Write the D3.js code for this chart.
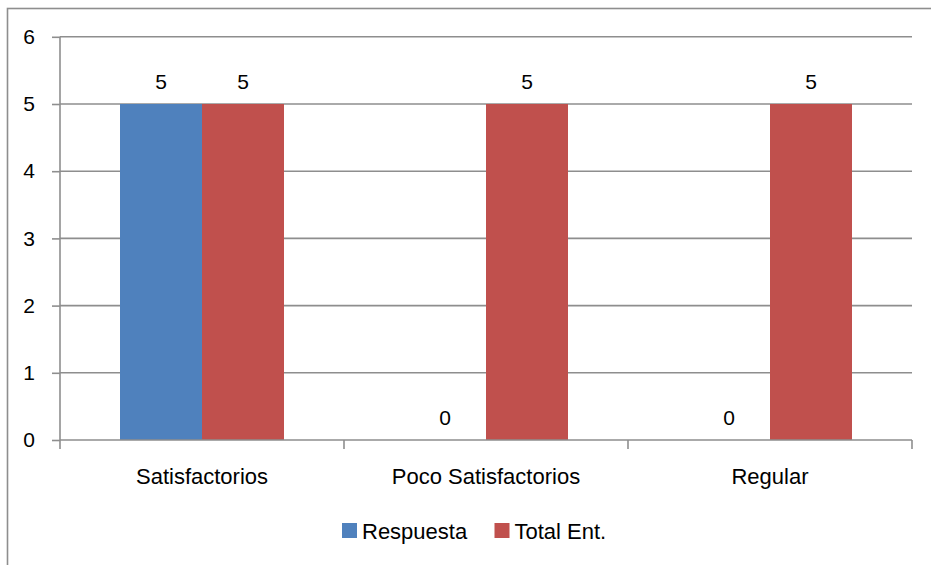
<!DOCTYPE html>
<html><head><meta charset="utf-8">
<script src="https://cdn.jsdelivr.net/npm/d3@7"></script>
<style>body{margin:0;background:#fff}svg{display:block}</style>
</head><body>
<svg id="c" width="931" height="565"></svg>
<script>
const categories = ["Satisfactorios", "Poco Satisfactorios", "Regular"];
const seriesNames = ["Respuesta", "Total Ent."];
const respuesta = [5, 0, 0];
const totalEnt = [5, 5, 5];
const yTicks = [0, 1, 2, 3, 4, 5, 6];
const colors = ["#4F81BD", "#C0504D"];

const svg = d3.select("#c");
const font = "'Liberation Sans', Arial, sans-serif";
const gray = "#8e8e8e";
const sw = 1.6;
const L = 60, R = 912, T = 36.8, B = 440;

// outer chart border
svg.append("rect").attr("x", 7.5).attr("y", 8.5).attr("width", 940).attr("height", 580)
  .attr("fill", "none").attr("stroke", gray).attr("stroke-width", sw);

const x = d3.scaleBand().domain(categories).range([L, R]).paddingInner(0).paddingOuter(0);
const x1 = d3.scaleBand().domain(seriesNames).range([0, 164]);
const y = d3.scaleLinear().domain([0, 6]).range([B, T]);

// gridlines
svg.append("g").selectAll("line").data(yTicks.filter(d => d > 0)).join("line")
  .attr("x1", L).attr("x2", R).attr("y1", d => y(d)).attr("y2", d => y(d))
  .attr("stroke", gray).attr("stroke-width", sw);

// bars
const data = categories.map((c, i) => ({cat: c, vals: [respuesta[i], totalEnt[i]]}));
const groups = svg.append("g").selectAll("g").data(data).join("g")
  .attr("transform", d => `translate(${x(d.cat) + (x.bandwidth() - 164) / 2},0)`);
groups.selectAll("rect").data(d => d.vals.map((v, j) => ({v, j}))).join("rect")
  .attr("x", d => x1(seriesNames[d.j])).attr("width", x1.bandwidth())
  .attr("y", d => y(d.v)).attr("height", d => B - y(d.v))
  .attr("fill", d => colors[d.j]);
groups.selectAll("text").data(d => d.vals.map((v, j) => ({v, j}))).join("text")
  .attr("x", d => x1(seriesNames[d.j]) + x1.bandwidth() / 2)
  .attr("y", d => y(d.v) - 22.5)
  .attr("text-anchor", "middle").attr("dominant-baseline", "central")
  .attr("font-family", font).attr("font-size", 21).attr("fill", "#000")
  .text(d => d.v);

// y axis
const yAxis = svg.append("g").attr("transform", `translate(${L},0)`)
  .call(d3.axisLeft(y).tickValues(yTicks).tickSize(8).tickPadding(17).tickFormat(d3.format("d")));
yAxis.select(".domain").attr("stroke", gray).attr("stroke-width", sw).attr("d", `M0,${T}V${B}`);
yAxis.selectAll(".tick line").attr("stroke", gray).attr("stroke-width", sw);
yAxis.selectAll(".tick text").attr("font-family", font).attr("font-size", 21).attr("fill", "#000");

// x axis
const xAxisG = svg.append("g").attr("transform", `translate(0,${B})`);
xAxisG.append("line").attr("x1", L).attr("x2", R).attr("stroke", gray).attr("stroke-width", sw);
const bounds = categories.map(c => x(c)).concat([R]);
xAxisG.selectAll("line.t").data(bounds).join("line").attr("class", "t")
  .attr("x1", d => d).attr("x2", d => d).attr("y1", 0).attr("y2", 9)
  .attr("stroke", gray).attr("stroke-width", sw);
xAxisG.selectAll("text").data(categories).join("text")
  .attr("x", d => x(d) + x.bandwidth() / 2).attr("y", 36)
  .attr("text-anchor", "middle").attr("dominant-baseline", "central")
  .attr("font-family", font).attr("font-size", 22).attr("fill", "#000")
  .text(d => d);

// legend
const legX = [342, 494.5];
const leg = svg.append("g").selectAll("g").data(seriesNames).join("g")
  .attr("transform", (d, i) => `translate(${legX[i]},523)`);
leg.append("rect").attr("width", 15).attr("height", 15).attr("fill", (d, i) => colors[i]);
leg.append("text").attr("x", 20).attr("y", 8).attr("dominant-baseline", "central")
  .attr("font-family", font).attr("font-size", 22).attr("fill", "#000").text(d => d);
</script>
</body></html>
